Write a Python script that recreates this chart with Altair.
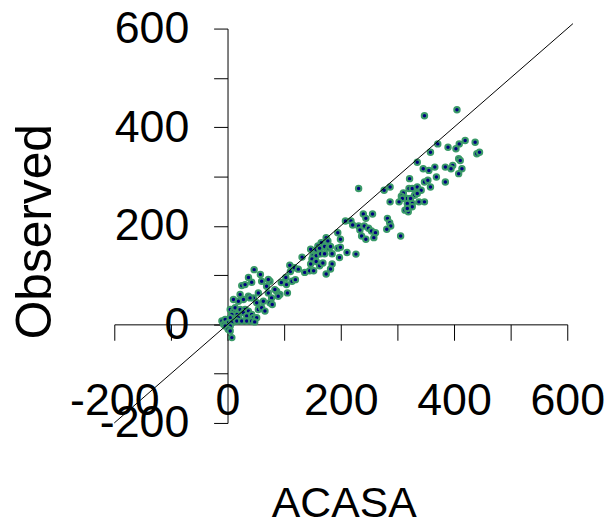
import altair as alt
import pandas as pd

# Observed vs ACASA values
acasa = [
    358.4, 440.3, 445.0, 408.2, 411.0, 335.1, 397.7, 384.7, 366.1, 345.6,
    355.6, 394.7, 414.0, 408.2, 368.9, 321.5, 384.7, 347.8, 353.8, 358.4,
    231.5, 287.1, 276.6, 320.5, 326.2, 335.1, 342.0, 310.5, 307.0, 330.3,
    335.1, 317.5, 323.3, 308.7, 287.1, 302.9, 326.2, 338.0, 347.8, 317.5,
    326.2, 313.4, 319.2, 317.5, 239.8, 256.1, 244.3, 208.2, 218.0, 221.0,
    282.4, 286.4, 288.2, 231.5, 241.5, 249.1, 233.8, 281.2, 254.3, 261.3,
    236.8, 244.3, 258.4, 305.7, 194.7, 199.4, 174.2, 177.2, 165.4, 159.6,
    146.8, 171.4, 178.9, 181.9, 156.6, 162.6, 194.7, 199.4, 211.0, 226.8,
    131.6, 150.9, 156.6, 164.4, 171.4, 184.7, 149.1, 156.6, 197.7, 162.6,
    168.4, 146.8, 184.7, 181.9, 136.3, 145.1, 152.1, 174.2,
    347.8, 405.2, 371.3, 389.4, 403.4, 409.2, 419.7, 437.3,
    25.1, 31.0, 42.7, 60.3, 69.0, 74.9, 86.6, 92.4, 104.1, 114.0, 119.9,
    22.2, 36.8, 45.6, 54.4, 72.0, 77.8, 89.5, 105.8, 83.6,
    10.5, 19.3, 28.1, 39.8, 51.5, 63.2, 74.9, 79.0, 54.4, 60.3, 66.1,
    4.7, 10.5, 13.4, 22.2, 31.0, 36.8, 28.1, 16.4, 7.6, 4.7, 19.3, 33.9,
    42.7, 45.6, 51.5,
    -9.9, -4.1, 1.6, -7.0, 7.6, 16.4, 25.1, 33.9, 42.7, 48.0,
    -4.1, 4.7, 1.0, 4.7, 7.6,
    47.0, 58.0, 37.0, 72.0, 95.0, 103.0, 111.0, 118.0, 110.0, 125.0,
]
observed = [
    349.2, 346.0, 349.2, 335.9, 332.5, 329.0, 322.4, 319.0, 319.0, 315.8,
    312.3, 315.8, 315.8, 305.7, 298.8, 295.6, 288.7, 288.7, 292.2, 278.7,
    275.5, 278.7, 272.0, 275.5, 275.5, 278.7, 272.0, 266.6, 259.9, 261.9,
    265.4, 255.3, 255.3, 255.3, 248.5, 248.5, 245.2, 248.5, 248.5, 245.2,
    238.4, 231.7, 228.3, 235.1, 223.7, 223.7, 215.0, 209.6, 209.6, 201.5,
    215.0, 206.1, 199.5, 199.5, 199.5, 194.9, 191.4, 192.8, 189.4, 186.0,
    179.3, 172.7, 175.9, 179.3, 186.0, 172.7, 175.9, 169.3, 165.8, 159.2,
    152.5, 157.8, 154.6, 157.8, 151.1, 154.6, 154.6, 156.6, 145.7, 142.5,
    136.4, 139.0, 139.0, 143.1, 143.1, 143.1, 132.4, 127.5, 135.6, 118.9,
    124.3, 122.3, 122.3, 112.2, 105.4, 108.8, 108.8, 102.2,
    423.2, 435.2, 366.1, 359.3, 356.1, 366.1, 372.8, 369.3,
    78.6, 80.6, 85.3, 87.3, 77.3, 87.3, 67.2, 60.4, 80.6, 87.3, 90.7,
    60.4, 57.1, 53.7, 63.8, 63.8, 53.7, 57.1, 63.8, 70.5,
    50.4, 47.0, 50.4, 53.7, 43.7, 47.0, 43.7, 40.3, 30.2, 33.6, 26.9,
    30.2, 26.9, 33.6, 30.2, 30.2, 26.9, 23.5, 20.2, 20.2, 13.4, 13.4, 16.8,
    20.2, 13.4, 13.4,
    6.7, 10.1, 3.4, 0.0, 3.4, 6.7, 6.7, 6.7, 6.7, 5.0,
    -3.4, -3.4, -10.1, -13.4, -26.9,
    111.0, 101.0, 95.0, 91.0, 85.0, 95.0, 107.0, 115.0, 120.0, 112.0,
]

line_x = [-200, 610]
line_y = [-200, 610]
tick_values = [-200, -100, 0, 100, 200, 300, 400, 500, 600]

points = pd.DataFrame({"ACASA": acasa, "Observed": observed})
line = pd.DataFrame({"ACASA": line_x, "Observed": line_y})

FONT = "Liberation Sans"
W, H = 456, 397
label_expr = "datum.value % 200 === 0 ? toString(datum.value) : ''"

xscale = alt.Scale(domain=[-200, 600], nice=False, zero=False)
yscale = alt.Scale(domain=[-200, 600], nice=False, zero=False)

xaxis = alt.Axis(
    title="ACASA", values=tick_values, labelExpr=label_expr, grid=False,
    offset=-(200 * H / 800), tickSize=16, tickColor="black", domainColor="black",
    domainWidth=1, tickWidth=1,
    labelFontSize=45, labelFont=FONT, labelColor="black", labelPadding=39,
    labelOverlap=False, labelFlush=False, labelBound=False,
    titleFont=FONT, titleFontSize=43, titleFontWeight="normal", titleColor="black",
    titleX=231, titleY=193, titleBaseline="alphabetic", titleAlign="center",
)
yaxis = alt.Axis(
    title="Observed", values=tick_values, labelExpr=label_expr, grid=False,
    offset=-(200 * W / 800), tickSize=14, tickColor="black", domainColor="black",
    domainWidth=1, tickWidth=1,
    labelFontSize=45, labelFont=FONT, labelColor="black", labelPadding=25,
    labelOverlap=False, labelFlush=False, labelBound=False,
    titleFont=FONT, titleFontSize=50, titleFontWeight="normal", titleColor="black",
    titleAngle=270, titleX=-178, titleY=204, titleBaseline="alphabetic", titleAlign="center",
)

pts = alt.Chart(points).mark_point(
    shape="circle", fill="#000080", stroke="#3A9A68", strokeWidth=2, size=30, opacity=1
).encode(
    x=alt.X("ACASA:Q", scale=xscale, axis=xaxis),
    y=alt.Y("Observed:Q", scale=yscale, axis=yaxis),
)

ln = alt.Chart(line).mark_line(color="black", strokeWidth=1).encode(
    x=alt.X("ACASA:Q", scale=xscale),
    y=alt.Y("Observed:Q", scale=yscale),
)

chart = alt.layer(pts, ln).properties(
    width=W, height=H,
    autosize=alt.AutoSizeParams(type="none"),
    padding={"left": 107, "top": 19, "right": 40, "bottom": 98},
).configure(background="white").configure_view(stroke=None, strokeWidth=0)

chart.save("out.html", embed_options={"renderer": "svg", "actions": False})
